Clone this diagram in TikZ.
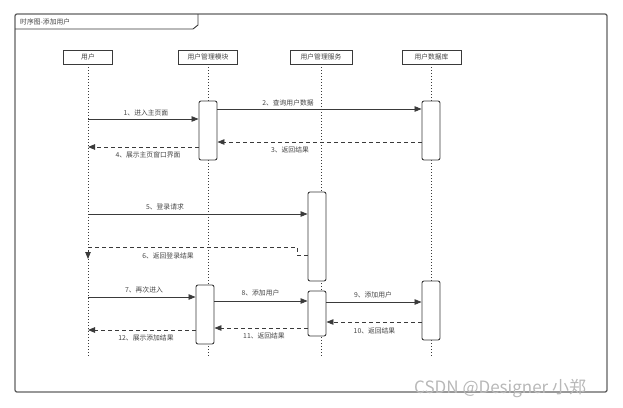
\documentclass[tikz,border=0pt]{standalone}
\usepackage{fontspec}
\setmainfont{Noto Sans CJK SC}
\usetikzlibrary{arrows.meta,calc}
\definecolor{ln}{HTML}{3A3A3A}
\definecolor{tx}{HTML}{444444}
\definecolor{wm}{HTML}{B8B8B8}
\tikzset{
  head/.style={draw=ln,line width=0.9pt,fill=white,minimum width=49pt,minimum height=14pt,inner sep=0pt,font=\fontsize{6.8}{8}\selectfont,text=tx},
  act/.style={draw=ln,line width=0.9pt,fill=white,rounded corners=2pt,minimum width=18pt,inner sep=0pt},
  life/.style={draw=ln,line width=0.7pt,dash pattern=on 1pt off 2pt},
  msg/.style={draw=ln,line width=0.8pt,-{Triangle[length=7pt,width=5.5pt]}},
  ret/.style={msg,dash pattern=on 4pt off 3pt},
  lbl/.style={font=\fontsize{6.8}{8}\selectfont,text=tx,inner sep=0pt}
}
\begin{document}
\begin{tikzpicture}[x=1pt,y=-1pt]
\useasboundingbox (0,0) rectangle (623,407);
% frame
\draw[draw=ln!80,line width=1.3pt,rounded corners=2pt] (15,14) rectangle (607,392);
\draw[draw=ln,line width=0.9pt] (15,29) -- (193,29) -- (198,25) -- (198,14);
\node[lbl,anchor=west] (title) at (20,22) {时序图-添加用户};
% heads
\node[head] (h1) at (88,57) {用户};
\node[head,minimum width=59pt] (h2) at (208,57) {用户管理模块};
\node[head,minimum width=62pt] (h3) at (321,57) {用户管理服务};
\node[head,minimum width=59pt] (h4) at (431.5,57) {用户数据库};
% lifeline ends
\coordinate (e1) at (88,358);
\coordinate (e2) at (208,358);
\coordinate (e3) at (321,358);
\coordinate (e4) at (431.5,358);
\draw[life] (h1.south) -- (e1);
\draw[life] (h2.south) -- (e2);
\draw[life] (h3.south) -- (e3);
\draw[life] (h4.south) -- (e4);
% activations
\node[act,minimum height=59pt] (a1) at (208,130.5) {};
\node[act,minimum height=59pt] (a2) at (431,130.5) {};
\node[act,minimum height=89pt] (a3) at (317,236.5) {};
\node[act,minimum height=59pt] (a4) at (205,314.5) {};
\node[act,minimum height=45pt] (a5) at (317,313.5) {};
\node[act,minimum height=59pt] (a6) at (431,310.5) {};
% user lifeline points
\coordinate (u1) at (88,119);
\coordinate (u4) at (88,147);
\coordinate (u5) at (88,214);
\coordinate (u6) at (88,259);
\coordinate (u7) at (88,297);
\coordinate (u12) at (88,330);
% messages
\draw[msg] (u1) -- (a1.west |- u1);
\node[lbl] (l1) at (146,113) {1、进入主页面};
\coordinate (m2) at (217,109);
\draw[msg] (a1.east |- m2) -- (a2.west |- m2);
\node[lbl] (l2) at (288,103) {2、查询用户数据};
\coordinate (m3) at (217,142);
\draw[ret] (a2.west |- m3) -- (a1.east |- m3);
\node[lbl] (l3) at (290,150) {3、返回结果};
\draw[ret] (a1.west |- u4) -- (u4);
\node[lbl] (l4) at (148,155) {4、展示主页窗口界面};
\draw[msg] (u5) -- (a3.west |- u5);
\node[lbl] (l5) at (165,207) {5、登录请求};
\coordinate (m6) at (308,255);
\draw[ret] (a3.west |- m6) -- (297,255) -- (297,247) -- (88,247) -- (u6);
\node[lbl] (l6) at (168,256) {6、返回登录结果};
\draw[msg] (u7) -- (a4.west |- u7);
\node[lbl] (l7) at (144,290) {7、再次进入};
\coordinate (m8) at (214,301);
\draw[msg] (a4.east |- m8) -- (a5.west |- m8);
\node[lbl] (l8) at (260.5,293) {8、添加用户};
\coordinate (m9) at (326,302);
\draw[msg] (a5.east |- m9) -- (a6.west |- m9);
\node[lbl] (l9) at (373,295) {9、添加用户};
\coordinate (m10) at (326,322);
\draw[ret] (a6.west |- m10) -- (a5.east |- m10);
\node[lbl] (l10) at (374.5,331) {10、返回结果};
\coordinate (m11) at (214,328);
\draw[ret] (a5.west |- m11) -- (a4.east |- m11);
\node[lbl] (l11) at (264,336) {11、返回结果};
\draw[ret] (a4.west |- u12) -- (u12);
\node[lbl] (l12) at (146,338) {12、展示添加结果};
% watermark
\node[anchor=south west,inner sep=0pt,text=wm,font=\fontsize{17}{18}\selectfont] (wm) at (414,398) {CSDN @Designer 小郑};
\end{tikzpicture}
\end{document}
